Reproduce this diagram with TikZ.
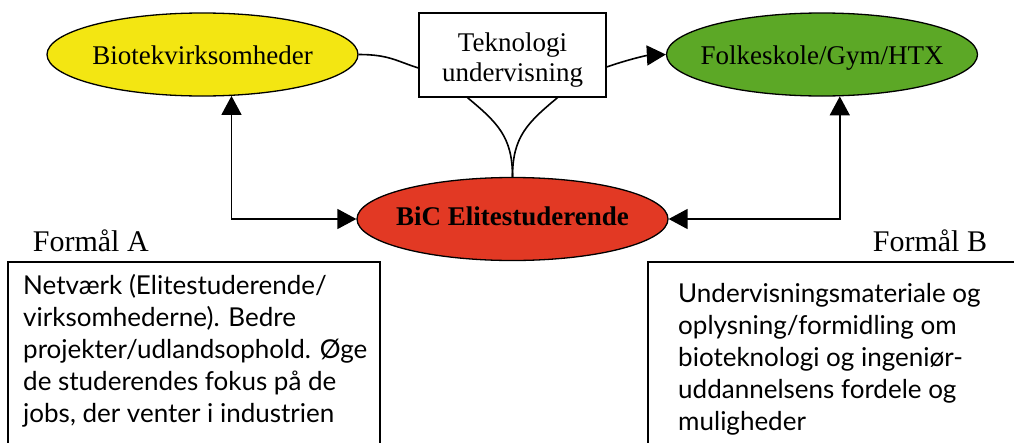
\documentclass[tikz,border=0pt]{standalone}
\usepackage{fontspec}
\setmainfont{Liberation Serif}
\newfontfamily\boxfont{Lato}
\usetikzlibrary{shapes.geometric,arrows.meta,calc}
\definecolor{cyellow}{RGB}{243,230,18}
\definecolor{cgreen}{RGB}{92,168,38}
\definecolor{cred}{RGB}{226,57,36}
\begin{document}
\begin{tikzpicture}[x=1pt,y=-1pt,
  ell/.style={ellipse,draw,line width=1.3pt,minimum width=311pt,minimum height=83pt,inner sep=0pt,
    text height=19pt,text depth=0pt,font=\fontsize{27}{32}\selectfont},
  conn/.style={line width=1.6pt},
  tip/.style={-{Triangle[length=19pt,width=20pt]}},
  tips/.style={{Triangle[length=19pt,width=20pt]}-{Triangle[length=19pt,width=20pt]}},
  heading/.style={anchor=base west,inner sep=0pt,font=\fontsize{30}{36}\selectfont},
  boxtext/.style={anchor=north west,inner sep=0pt,align=left,font=\boxfont\fontsize{26}{32}\selectfont},
  frame/.style={line width=1.3pt}]
\useasboundingbox (0,0) rectangle (1014,442);
\fill[white] (0,0) rectangle (1014,442);
% nodes
\node[ell,fill=cyellow] (Y) at (202.5,54.5) {\makebox[0pt]{Biotekvirksomheder}};
\node[ell,fill=cgreen] (G) at (822,54.5) {\makebox[0pt]{Folkeskole/Gym/HTX}};
\node[ell,fill=cred,text height=13pt] (R) at (512.5,219) {\makebox[0pt]{\bfseries BiC Elitestuderende}};
\node[draw,frame,fill=white,minimum width=187pt,minimum height=84pt,inner sep=0pt] (T) at (512.5,55) {};
\node[align=center,inner sep=0pt,font=\fontsize{27}{30}\selectfont] (Tt) at (512.5,60) {Teknologi\\undervisning};
% connectors
\draw[conn] (Y.east) .. controls +(30,0) and +(-22,-7) .. ($(T.west)+(0,13)$);
\draw[conn,tip] ($(T.east)+(0,12)$) .. controls +(20,-7) and +(-20,1) .. (G.west);
\draw[conn] ($(T.south)+(-45,0)$) .. controls +(30,25) and +(0,-40) .. (R.north);
\draw[conn] ($(T.south)+(45,0)$) .. controls +(-30,25) and +(0,-40) .. (R.north);
\draw[conn,tips] (Y.-55.2) |- (R);
\draw[conn,tips] (G.-67.35) |- (R);
% purposes
\node[heading] (FA) at (32.7,251) {Formål A};
\node[heading] (FB) at (872.7,251) {Formål B};
\draw[frame] (8,262) rectangle (380,470);
\draw[frame] (648,262) rectangle (1030,470);
\node[boxtext] (TA) at (23,274) {Netværk (Elitestuderende/\\virksomhederne). Bedre\\projekter/udlandsophold. Øge\\de studerendes fokus på de\\jobs, der venter i industrien};
\node[boxtext] (TB) at (678,283) {Undervisningsmateriale og\\oplysning/formidling om\\bioteknologi og ingeniør-\\uddannelsens fordele og\\muligheder};
\end{tikzpicture}
\end{document}
